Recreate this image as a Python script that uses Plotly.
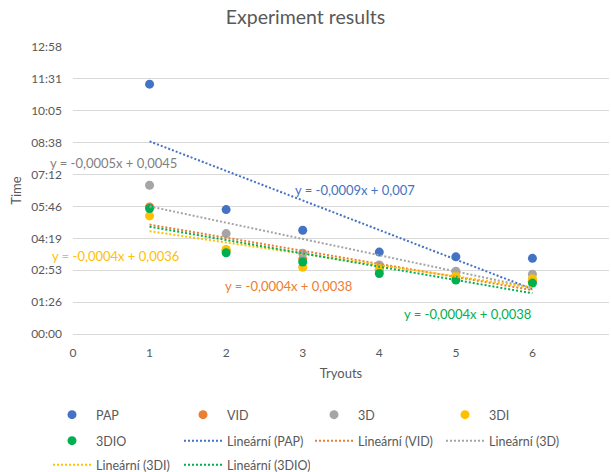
import numpy as np
import plotly.graph_objects as go

# ---------------- data ----------------
tryouts = [1, 2, 3, 4, 5, 6]
series_names = ["PAP", "VID", "3D", "3DI", "3DIO"]
pap = ["11:17", "05:37", "04:41", "03:42", "03:29", "03:25"]
vid = ["05:44", "03:46", "03:23", "02:53", "02:37", "02:23"]
d3 = ["06:43", "04:32", "03:39", "03:07", "02:50", "02:42"]
d3i = ["05:20", "03:49", "03:01", "02:55", "02:37", "02:30"]
d3io = ["05:40", "03:40", "03:15", "02:44", "02:26", "02:18"]
series_values = [pap, vid, d3, d3i, d3io]

trend_names = ["Lineární (PAP)", "Lineární (VID)", "Lineární (3D)", "Lineární (3DI)", "Lineární (3DIO)"]
equations = ["y = -0,0009x + 0,007", "y = -0,0004x + 0,0038", "y = -0,0005x + 0,0045",
             "y = -0,0004x + 0,0036", "y = -0,0004x + 0,0038"]

y_tick_vals = [0, 0.001, 0.002, 0.003, 0.004, 0.005, 0.006, 0.007, 0.008, 0.009]
y_tick_text = ["00:00", "01:26", "02:53", "04:19", "05:46", "07:12", "08:38", "10:05", "11:31", "12:58"]
x_tick_vals = [0, 1, 2, 3, 4, 5, 6, 7]

# ---------------- styles ----------------
colors = ["#4472C4", "#ED7D31", "#A5A5A5", "#FFC000", "#00B050"]
eq_colors = ["#4472C4", "#ED7D31", "#7F7F7F", "#FFC000", "#00B050"]
# (x, y, xshift) label anchors
eq_pos = [(2.87, 0.00453, 0), (1.96, 0.00152, 0), (0.0, 0.005375, -25),
          (0.0, 0.00244, -23), (4.30, 0.000625, 0)]
FONT = "Lato"
TXT = "#595959"


def to_days(t):
    m, s = t.split(":")
    return (int(m) * 60 + int(s)) / 86400.0


fig = go.Figure()
legend_of_scatter = ["legend", "legend", "legend", "legend", "legend2"]
legend_of_trend = ["legend2", "legend2", "legend2", "legend3", "legend3"]

for name, vals, col, lg in zip(series_names, series_values, colors, legend_of_scatter):
    fig.add_trace(go.Scatter(x=tryouts, y=[to_days(v) for v in vals], mode="markers",
                             name=name, legend=lg,
                             marker=dict(color=col, size=9, line=dict(width=0))))

for name, vals, col, lg in zip(trend_names, series_values, colors, legend_of_trend):
    yv = np.array([to_days(v) for v in vals])
    k, q = np.polyfit(tryouts, yv, 1)
    xs = np.array(tryouts, dtype=float)
    fig.add_trace(go.Scatter(x=xs, y=k * xs + q, mode="lines", name=name, legend=lg,
                             line=dict(color=col, width=2, dash="2px,2px")))

for txt, col, (ex, ey, xs_) in zip(equations, eq_colors, eq_pos):
    fig.add_annotation(x=ex, y=ey, xref="x", yref="y", text=txt, showarrow=False,
                       xanchor="left", yanchor="middle", xshift=xs_,
                       font=dict(family=FONT, size=13, color=col))

leg_common = dict(orientation="h", xref="container", yref="container", xanchor="left",
                  yanchor="middle", entrywidth=78, entrywidthmode="pixels", itemwidth=38,
                  font=dict(family=FONT, size=12.5, color=TXT), bgcolor="rgba(0,0,0,0)")

fig.update_layout(
    width=611, height=472,
    margin=dict(l=73, r=2, t=47, b=138, autoexpand=False),
    paper_bgcolor="white", plot_bgcolor="white",
    font=dict(family=FONT, size=12, color=TXT),
    title=dict(text="Experiment results", x=0.5, xanchor="center", y=1 - 17 / 472,
               yanchor="middle", font=dict(family=FONT, size=19.5, color=TXT)),
    xaxis=dict(range=[0, 7], tickvals=x_tick_vals, showgrid=False, zeroline=False,
               showline=True, linecolor="#D9D9D9", linewidth=1, ticks="",
               ticklabelstandoff=8, tickfont=dict(family=FONT, size=12, color=TXT),
               title=dict(text="Tryouts", standoff=9, font=dict(family=FONT, size=13, color=TXT))),
    yaxis=dict(range=[0, 0.009], tickvals=y_tick_vals, ticktext=y_tick_text, showgrid=True,
               gridcolor="#D9D9D9", gridwidth=1, zeroline=False, showline=False, ticks="",
               ticklabelstandoff=10, tickfont=dict(family=FONT, size=12, color=TXT),
               title=dict(text="Time", standoff=6, font=dict(family=FONT, size=13, color=TXT))),
    legend=dict(x=48 / 611, y=1 - 415 / 472, **leg_common),
    legend2=dict(x=48 / 611, y=1 - 441 / 472, **leg_common),
    legend3=dict(x=48 / 611, y=1 - 465 / 472, **leg_common),
    showlegend=True,
)

fig.write_html("out.html")
